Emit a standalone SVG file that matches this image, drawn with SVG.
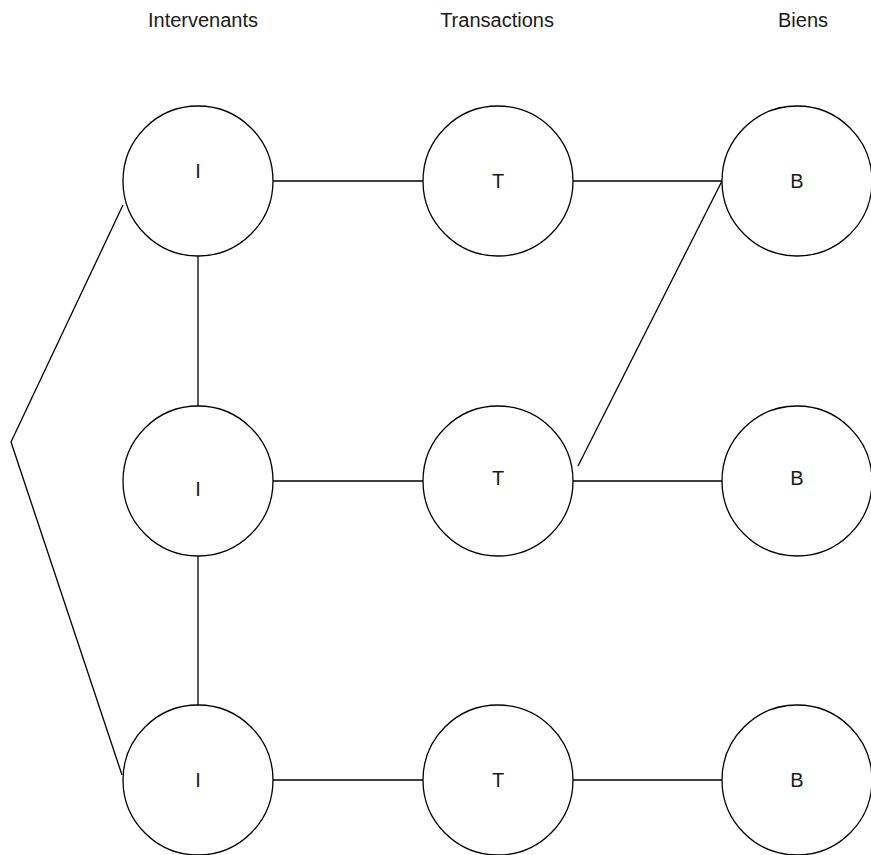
<svg xmlns="http://www.w3.org/2000/svg" width="871" height="855" viewBox="0 0 871 855">
  <style>
    .node circle { fill: #ffffff; stroke: #000000; stroke-width: 1.3; }
    .node text, .header { font-family: "Liberation Sans", Arial, sans-serif; font-size: 20px; fill: #1a1a1a; text-anchor: middle; }
    #connectors line, #connectors polyline { stroke: #000000; stroke-width: 1.3; fill: none; }
  </style>
  <rect width="871" height="855" fill="#ffffff"/>

  <!-- column headers -->
  <text class="header" x="203" y="27">Intervenants</text>
  <text class="header" x="497" y="27">Transactions</text>
  <text class="header" x="803" y="27">Biens</text>

  <!-- connectors -->
  <g id="connectors">
    <line x1="273" y1="181" x2="423" y2="181"/>
    <line x1="573" y1="181" x2="722" y2="181"/>
    <line x1="273" y1="481" x2="423" y2="481"/>
    <line x1="573" y1="481" x2="722" y2="481"/>
    <line x1="273" y1="780" x2="423" y2="780"/>
    <line x1="573" y1="780" x2="722" y2="780"/>
    <line x1="198" y1="256" x2="198" y2="406"/>
    <line x1="198" y1="556" x2="198" y2="705"/>
    <line x1="722" y1="181" x2="578" y2="466"/>
    <polyline points="123,205 11,442 122,775"/>
  </g>

  <!-- intervenants -->
  <g id="i1" class="node"><circle cx="198" cy="181" r="75"/><text x="198" y="178">I</text></g>
  <g id="i2" class="node"><circle cx="198" cy="481" r="75"/><text x="198" y="496">I</text></g>
  <g id="i3" class="node"><circle cx="198" cy="780" r="75"/><text x="198" y="787">I</text></g>

  <!-- transactions -->
  <g id="t1" class="node"><circle cx="498" cy="181" r="75"/><text x="498" y="188">T</text></g>
  <g id="t2" class="node"><circle cx="498" cy="481" r="75"/><text x="498" y="485">T</text></g>
  <g id="t3" class="node"><circle cx="498" cy="780" r="75"/><text x="498" y="787">T</text></g>

  <!-- biens -->
  <g id="b1" class="node"><circle cx="797" cy="181" r="75"/><text x="797" y="188">B</text></g>
  <g id="b2" class="node"><circle cx="797" cy="481" r="75"/><text x="797" y="485">B</text></g>
  <g id="b3" class="node"><circle cx="797" cy="780" r="75"/><text x="797" y="787">B</text></g>
</svg>
